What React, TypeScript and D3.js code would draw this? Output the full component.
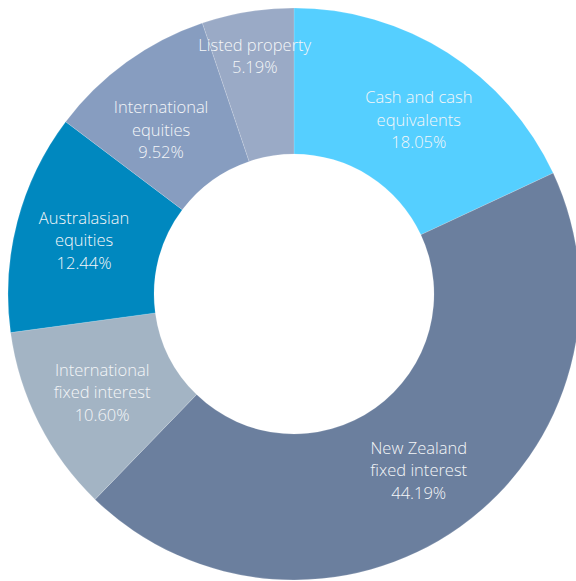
import React from "react";
import * as d3 from "d3";

const categories = [
  "Cash and cash equivalents",
  "New Zealand fixed interest",
  "International fixed interest",
  "Australasian equities",
  "International equities",
  "Listed property",
];
const labelLines = [
  ["Cash and cash", "equivalents"],
  ["New Zealand", "fixed interest"],
  ["International", "fixed interest"],
  ["Australasian", "equities"],
  ["International", "equities"],
  ["Listed property"],
];
const values = [18.05, 44.19, 10.6, 12.44, 9.52, 5.19];
const colors = ["#55CFFF", "#6B7F9E", "#A3B4C4", "#0088BF", "#879DC0", "#9AAAC6"];

const W = 576;
const H = 581;
const CX = 294;
const CY = 294;
const R_OUT = 286;
const R_IN = 140;

export default function App() {
  const pie = d3.pie<number>().sort(null).value((d) => d)(values);
  const arc = d3.arc<d3.PieArcDatum<number>>().innerRadius(R_IN).outerRadius(R_OUT);
  const lineH = 22.5;
  // label placement tweaks (degrees, radius) to mimic the reference layout
  const angleNudge = [3, 0, 0, 0, -3, 0];
  const radius = [215, 215, 215, 217, 212, 242];
  return (
    <svg
      width={W}
      height={H}
      style={{ position: "absolute", left: 0, top: 0 }}
      fontFamily="'Open Sans', sans-serif"
    >
      <g transform={`translate(${CX},${CY})`}>
        {pie.map((p, i) => (
          <path key={categories[i]} d={arc(p) || ""} fill={colors[i]} stroke="#ffffff" strokeOpacity={0.25} strokeWidth={0.6} />
        ))}
        {pie.map((p, i) => {
          const mid = (p.startAngle + p.endAngle) / 2 + (angleNudge[i] * Math.PI) / 180;
          const r = radius[i];
          const x = r * Math.sin(mid);
          const y = -r * Math.cos(mid);
          const lines = [...labelLines[i], values[i].toFixed(2) + "%"];
          const top = y - ((lines.length - 1) * lineH) / 2;
          return (
            <text key={"l" + i} textAnchor="middle" fill="#f4f6f8" fontSize={16.5} fontWeight={300} dominantBaseline="central">
              {lines.map((t, j) => (
                <tspan key={j} x={x} y={top + j * lineH}>
                  {t}
                </tspan>
              ))}
            </text>
          );
        })}
      </g>
    </svg>
  );
}
